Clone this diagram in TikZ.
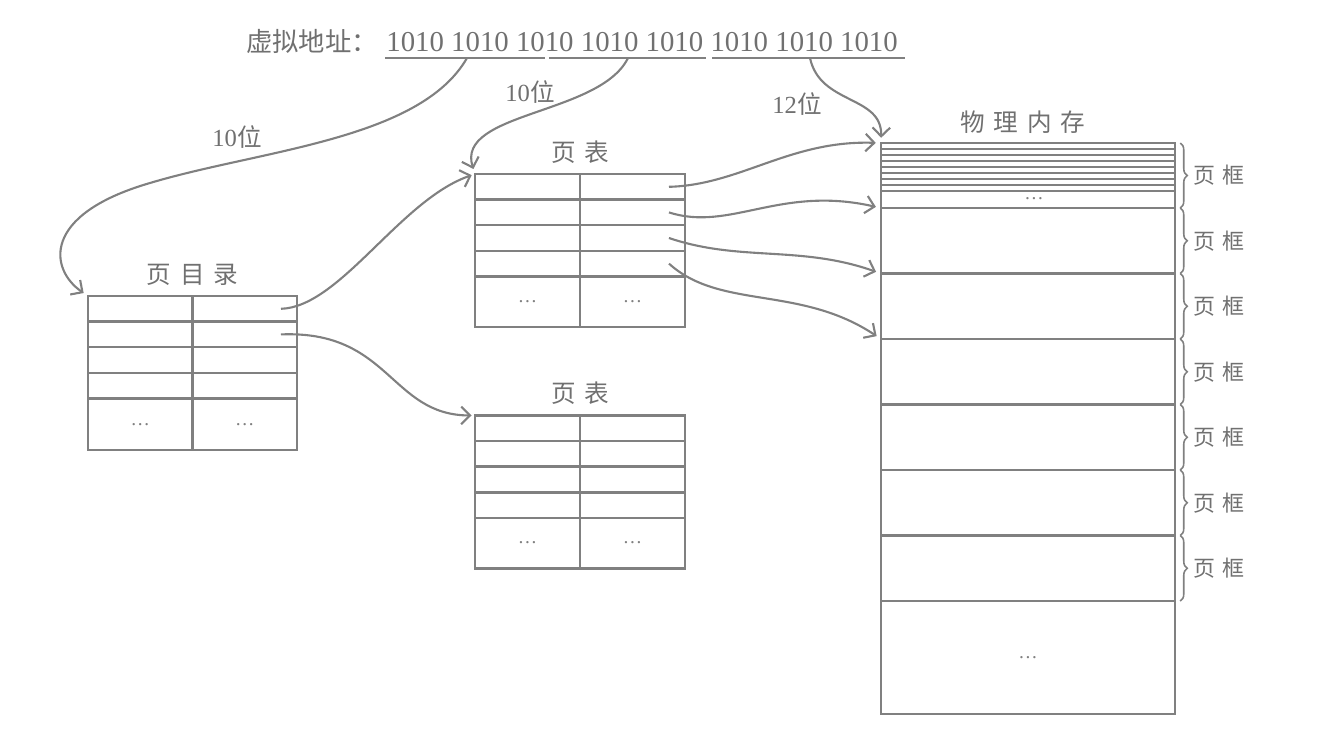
\documentclass[tikz,border=0pt]{standalone}
\usepackage{fontspec}
\setmainfont{Liberation Serif}
\newfontfamily\cjk{Noto Sans CJK SC}
\usepackage{xcolor}
\definecolor{LineGray}{RGB}{128,128,128}
\definecolor{TextGray}{RGB}{112,112,112}
\usetikzlibrary{
  arrows.meta,
  positioning, calc,
  decorations.pathreplacing
}
\tikzset{
  % Table frame (no padding, anchors sit on the line)
  tblbox/.style={
    rectangle, draw=LineGray, line width=1.4pt,
    inner sep=0pt, outer sep=0pt
  },
  tbl/.style={draw=LineGray, line width=1.4pt},
  stripe/.style={draw=LineGray, line width=1.2pt},
  % Arrows
  arr/.style={-{Straight Barb[length=5pt,width=10pt]}, line width=1.2pt, LineGray},
  % Braces at the memory column
  brc/.style={draw=LineGray, line width=0.9pt, decorate,
    decoration={brace, amplitude=4pt}},
  % Texts
  ttl/.style={font=\cjk\fontsize{14}{16}\selectfont, text=TextGray, inner sep=1pt},
  bits/.style={font=\fontsize{16.4}{18}\selectfont, text=TextGray, inner sep=0pt},
  lbl/.style={font=\fontsize{14}{16}\selectfont, text=TextGray, inner sep=1pt},
  frm/.style={font=\cjk\fontsize{12.5}{14}\selectfont, text=TextGray, inner sep=0pt},
  dots/.style={font=\fontsize{11}{12}\selectfont, text=LineGray, inner sep=0pt},
}

\begin{document}
\begin{tikzpicture}[x=0.02cm, y=-0.02cm]
  \useasboundingbox (0,0) rectangle (1334,729);

  %% ---- VIRTUAL ADDRESS ----
  \node[ttl, anchor=base east, font=\cjk\fontsize{15}{18}\selectfont] (va) at (380,52) {虚拟地址：};
  \node[bits, anchor=base west] (addr) at (386,52) {1010 1010 1010 1010 1010 1010 1010 1010};
  \draw[tbl, line width=1.2pt] (385,58) -- (545,58);
  \draw[tbl, line width=1.2pt] (549,58) -- (706,58);
  \draw[tbl, line width=1.2pt] (712,58) -- (905,58);
  \coordinate (idx1) at (467,58);
  \coordinate (idx2) at (628,58);
  \coordinate (idx3) at (810,58);

  %% ---- TABLES ----
  \node[tblbox, minimum width=4.18cm, minimum height=3.08cm] (pd)  at (192.5,373) {};
  \node[tblbox, minimum width=4.2cm,  minimum height=3.06cm] (pta) at (580,250.5) {};
  \node[tblbox, minimum width=4.2cm,  minimum height=3.06cm] (ptb) at (580,492) {};

  \node[ttl, above=5pt of pd]  (pd-t)  {页\hspace{5pt}目\hspace{5pt}录};
  \node[ttl, above=5pt of pta] (pta-t) {页\hspace{5pt}表};
  \node[ttl, above=5pt of ptb] (ptb-t) {页\hspace{5pt}表};

  \foreach \t in {pd, pta, ptb}{
    \draw[tbl] (\t.north) -- (\t.south);
    \foreach \r in {1,...,4}{
      \draw[tbl] ($(\t.north west)+(0,\r*25.6)$) -- ($(\t.north east)+(0,\r*25.6)$);
      \coordinate (\t-\r) at ($(\t.north east)+(-16,{(\r-0.5)*25.6})$);
    }
    \node[dots] (\t-dl) at ($(\t.south west)!0.25!(\t.south east)+(0,-25.5)$) {\dots};
    \node[dots] (\t-dr) at ($(\t.south west)!0.75!(\t.south east)+(0,-25.5)$) {\dots};
  }

  %% ---- PHYSICAL MEMORY ----
  \node[tblbox, minimum width=5.88cm, minimum height=11.42cm] (mem) at (1028,428.5) {};
  \node[ttl, above=4pt of mem, xshift=-3pt] (mem-t) {物\hspace{5pt}理\hspace{5pt}内\hspace{5pt}存};

  \foreach \k in {1,...,8}
    \draw[stripe] ($(mem.north west)+(0,\k*6)$) -- ($(mem.north east)+(0,\k*6)$);
  \node[dots] (md1) at ($(mem.north)+(6,56)$) {\dots};

  \coordinate (fl0) at (mem.north west);
  \coordinate (fr0) at (mem.north east);
  \foreach \k in {1,...,7}{
    \coordinate (fl\k) at ($(mem.north west)+(0,{65+65.5*(\k-1)})$);
    \coordinate (fr\k) at ($(mem.north east)+(0,{65+65.5*(\k-1)})$);
    \draw[tbl] (fl\k) -- (fr\k);
  }
  \node[dots] (md2) at ($(fl7)!0.5!(mem.south east)$) {\dots};

  %% Page frames
  \foreach \k [remember=\k as \j (initially 0)] in {1,...,7}
    \draw[brc] ([xshift=3pt]fr\j) -- ([xshift=3pt]fr\k)
      node[frm, midway, anchor=west, xshift=7pt] (pf\k) {页\hspace{4pt}框};

  %% ---- ARROWS ----
  %% Address fields
  \draw[arr, shorten >=3pt] (idx1) .. controls (420,140) and (260,150) .. (150,183)
    .. controls (40,215) and (50,270) .. (pd.north west);
  \node[lbl] (b1) at (237,137) {10{\cjk 位}};
  \draw[arr, shorten >=3pt] (idx2) .. controls (600,115) and (455,112) .. (pta.north west);
  \node[lbl] (b2) at (530,92) {10{\cjk 位}};
  \draw[arr, shorten >=3pt] (idx3) .. controls (820,105) and (882,95) .. (mem.north west);
  \node[lbl] (b3) at (797,104) {12{\cjk 位}};

  %% Directory -> page tables
  \draw[arr, shorten >=2pt] (pd-1) .. controls (340,307) and (400,200) .. (pta.north west);
  \draw[arr, shorten >=2pt] (pd-2) .. controls (390,330) and (390,415) .. (ptb.north west);

  %% Page table -> memory
  \draw[arr, shorten >=3pt] (pta-1) .. controls (740,185) and (790,140) .. (mem.north west);
  \draw[arr, shorten >=3pt] (pta-2) .. controls (730,232) and (780,185) .. (fl1);
  \draw[arr, shorten >=3pt] (pta-3) .. controls (740,262) and (800,245) .. (fl2);
  \draw[arr, shorten >=3pt] (pta-4) .. controls (720,310) and (800,285) .. (fl3);

\end{tikzpicture}
\end{document}
